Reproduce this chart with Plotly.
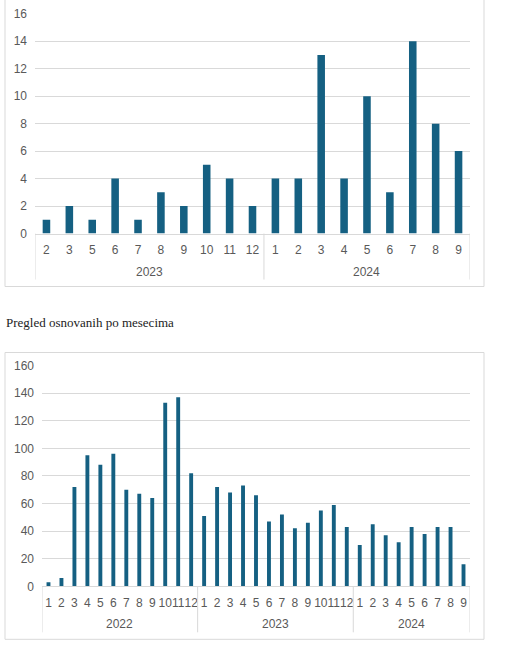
import plotly.graph_objects as go

# top chart data
top_years = ["2023"] * 10 + ["2024"] * 9
top_months = ["2", "3", "5", "6", "7", "8", "9", "10", "11", "12",
              "1", "2", "3", "4", "5", "6", "7", "8", "9"]
top_values = [1, 2, 1, 4, 1, 3, 2, 5, 4, 2,
              4, 4, 13, 4, 10, 3, 14, 8, 6]

# bottom chart data (Pregled osnovanih po mesecima)
bot_years = ["2022"] * 12 + ["2023"] * 12 + ["2024"] * 9
bot_months = [str(m) for m in range(1, 13)] * 2 + [str(m) for m in range(1, 10)]
bot_values = [3, 6, 72, 95, 88, 96, 70, 67, 64, 133, 137, 82,
              51, 72, 68, 73, 66, 47, 52, 42, 46, 55, 59, 43,
              30, 45, 37, 32, 43, 38, 43, 43, 16]

bar_color = "#156082"
grid = "#d9d9d9"
txt = "#595959"
W, H = 505, 648
ax_font = dict(family="Liberation Sans, Arial", size=12, color=txt)


def px(x):
    return x / W


def py(y):
    # screenshot comes out slightly squeezed vertically, compensate
    return 1 - ((y - 6.3) / 0.979) / H


fig = go.Figure()


def add_chart(n, years, months, values, ymax, dtick, px_left, px_zero, px_top, px_year, px_div, bw):
    xa, ya = ("x" if n == 1 else "x%d" % n), ("y" if n == 1 else "y%d" % n)
    idx = list(range(len(values)))
    fig.add_trace(go.Bar(x=idx, y=values, width=bw, marker=dict(color=bar_color, line_width=0),
                         xaxis=xa, yaxis=ya, hovertext=[y + " / " + m for y, m in zip(years, months)]))
    fig.layout["xaxis" if n == 1 else "xaxis%d" % n] = dict(
        domain=[px(px_left), px(470)], anchor=ya, range=[-0.5, len(values) - 0.5],
        tickmode="array", tickvals=idx, ticktext=months, tickangle=0, ticks="",
        ticklabelstandoff=5, tickfont=ax_font, showgrid=False, zeroline=False,
        showline=True, linecolor=grid, linewidth=1, fixedrange=True)
    fig.layout["yaxis" if n == 1 else "yaxis%d" % n] = dict(
        domain=[py(px_zero), py(px_top)], anchor=xa, range=[0, ymax], dtick=dtick,
        showgrid=True, gridcolor=grid, gridwidth=1, zeroline=False, showline=False,
        tickfont=ax_font, ticklabelstandoff=7, fixedrange=True)
    # year groups: labels and dividers
    bounds = [0] + [i for i in range(1, len(years)) if years[i] != years[i - 1]] + [len(years)]
    for b in bounds:
        fig.add_shape(type="line", xref=xa, yref="paper", x0=b - 0.5, x1=b - 0.5,
                      y0=py(px_zero), y1=py(px_div), line=dict(color=grid, width=1))
    for a, b in zip(bounds[:-1], bounds[1:]):
        fig.add_annotation(xref=xa, yref="paper", x=(a + b - 1) / 2, y=py(px_year),
                           text=years[a], showarrow=False, yanchor="middle", font=ax_font)


add_chart(1, top_years, top_months, top_values, 16, 2, 35, 233, 13, 271, 279, 0.33)
add_chart(2, bot_years, bot_months, bot_values, 160, 20, 42, 586, 365, 624, 632, 0.3)

fig.update_layout(width=W, height=H, margin=dict(l=0, r=0, t=0, b=0),
                  paper_bgcolor="white", plot_bgcolor="white", showlegend=False)

# chart frames (top chart is cut at the top edge)
fig.add_shape(type="path", xref="paper", yref="paper", layer="below",
              path="M %f,1.2 L %f,%f L %f,%f L %f,1.2" % (px(5), px(5), py(286), px(484), py(286), px(484)),
              line=dict(color=grid, width=1))
fig.add_shape(type="rect", xref="paper", yref="paper", x0=px(5), x1=px(484), y0=py(639), y1=py(352),
              line=dict(color=grid, width=1), layer="below")

fig.add_annotation(xref="paper", yref="paper", x=px(5), y=py(322), xanchor="left", yanchor="middle",
                   showarrow=False, text="Pregled osnovanih po mesecima", borderpad=0,
                   font=dict(family="Liberation Serif, Times New Roman", size=13, color="#222222"))

page_fix = ("document.documentElement.style.margin='0';document.body.style.margin='0';"
            "document.body.style.overflow='hidden';"
            "var d=document.getElementById('{plot_id}');"
            "d.style.position='absolute';d.style.left='0px';d.style.top='0px';")
fig.write_html("out.html", config={"displayModeBar": False}, post_script=page_fix)
